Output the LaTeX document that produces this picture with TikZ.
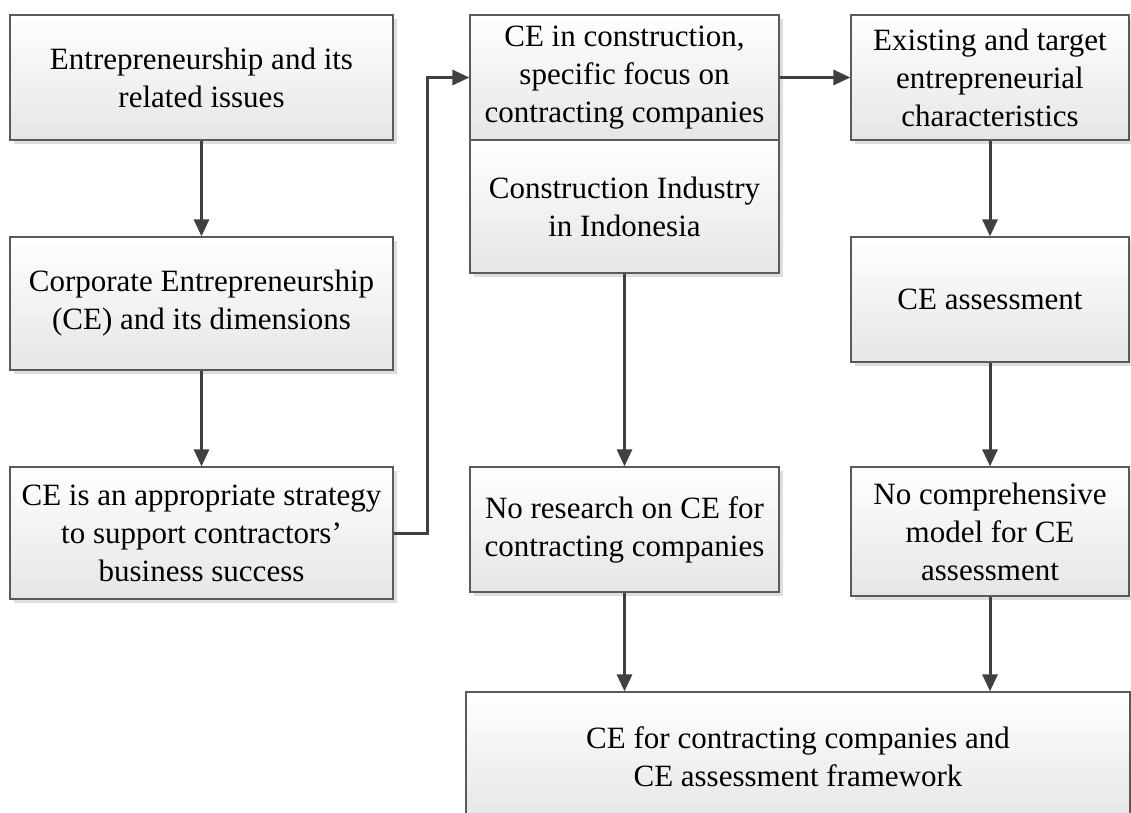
\documentclass[tikz,border=0pt]{standalone}
\usepackage{fontspec}
\setmainfont{Liberation Serif}
\usetikzlibrary{arrows.meta,shadows}

\definecolor{edgegray}{HTML}{5A5A5A}
\definecolor{linkgray}{HTML}{404040}

\tikzset{
  boxtext/.style={align=center, inner sep=0pt,
    font=\fontsize{31}{38}\selectfont},
  flowbox/.style={
    boxtext,
    draw=edgegray, line width=1.3pt,
    top color=white, bottom color=black!10,
    drop shadow={shadow xshift=3.5pt, shadow yshift=-3.5pt, fill=black!13, opacity=1}
  },
  link/.style={draw=linkgray, line width=3pt,
    -{Triangle[length=17pt,width=15pt]}}
}

\begin{document}
\begin{tikzpicture}[x=1pt,y=-1pt]
  \clip (0,0) rectangle (1131,812);
  \useasboundingbox (0,0) rectangle (1131,812);
  \fill[white] (0,0) rectangle (1131,812);

  % left column
  \node[flowbox, minimum width=383pt, minimum height=125pt] (a) at (201.5,77.5)
    {Entrepreneurship and its\\related issues};
  \node[flowbox, minimum width=383pt, minimum height=133pt] (b) at (201.5,303.5)
    {Corporate Entrepreneurship\\(CE) and its dimensions};
  \node[flowbox, minimum width=383pt, minimum height=132pt] (c) at (201.5,533)
    {CE is an appropriate strategy\\to support contractors'\\business success};

  % middle column
  \node[flowbox, minimum width=309pt, minimum height=125pt] (d1) at (624.5,77.5)
    {CE in construction,\\specific focus on\\contracting companies};
  \node[flowbox, minimum width=309pt, minimum height=133pt] (d2) at (624.5,206.5) {};
  \node[boxtext] (d2t) at (624.5,207) {Construction Industry\\in Indonesia};
  \node[flowbox, minimum width=309pt, minimum height=125pt] (h) at (624.5,529.5)
    {No research on CE for\\contracting companies};

  % right column
  \node[flowbox, minimum width=278pt, minimum height=125pt] (e) at (990,77.5)
    {Existing and target\\entrepreneurial\\characteristics};
  \node[flowbox, minimum width=278pt, minimum height=125pt] (f) at (990,299.5)
    {CE assessment};
  \node[flowbox, minimum width=278pt, minimum height=129pt] (g) at (990,531.5)
    {No comprehensive\\model for CE\\assessment};

  % bottom result
  \node[flowbox, minimum width=664pt, minimum height=130pt] (i) at (798,757)
    {CE for contracting companies and\\CE assessment framework};

  % connectors
  \draw[link] (a) -- (b);
  \draw[link] (b) -- (c);
  \draw[link] (c.east) -- ++(34,0) |- (d1.west);
  \draw[link] (d1) -- (e);
  \draw[link] (e) -- (f);
  \draw[link] (f) -- (g);
  \draw[link] (d2) -- (h);
  \draw[link] (h.south) -- (h.south |- i.north);
  \draw[link] (g.south) -- (g.south |- i.north);
\end{tikzpicture}
\end{document}
